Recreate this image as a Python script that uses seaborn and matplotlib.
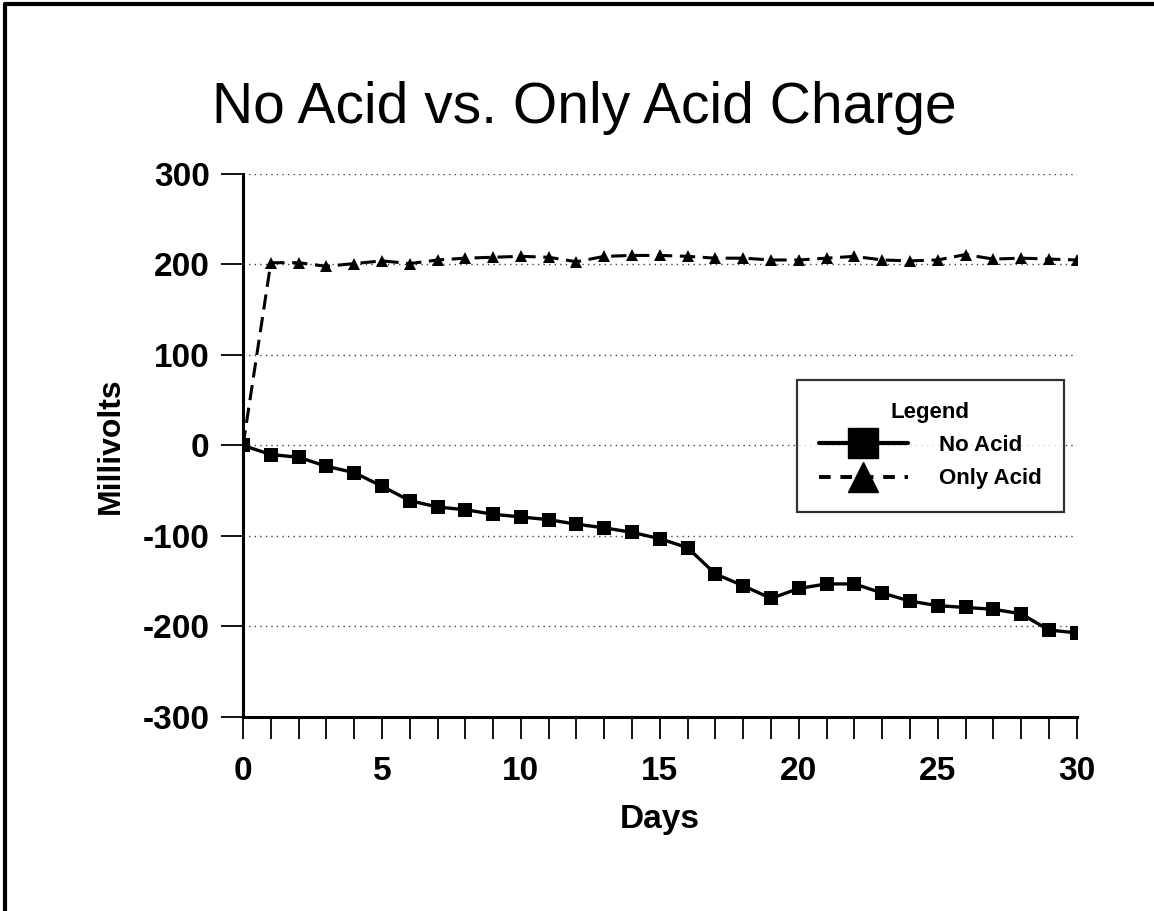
'''Script for plotting acid charge millivolt readings'''

import matplotlib.pyplot as plt
import matplotlib.lines as mlines
import seaborn as sns
import pandas as pd

# data
days = list(range(31))
no_acid = [0, -10, -13, -23, -30, -45, -61, -68, -71, -76, -79, -82, -87, -91, -96,
           -103, -113, -142, -155, -169, -158, -153, -153, -163, -172, -177, -179,
           -181, -186, -204, -207]
only_acid = [0, 202, 202, 198, 201, 204, 201, 205, 207, 208, 209, 208, 203, 209, 210,
             210, 209, 207, 207, 205, 205, 207, 209, 205, 204, 205, 211, 206, 207,
             206, 205]
series_names = ['No Acid', 'Only Acid']
y_ticks = [-300, -200, -100, 0, 100, 200, 300]
x_labels = [0, 5, 10, 15, 20, 25, 30]

df = pd.DataFrame({'Days': days * 2,
                   'Millivolts': no_acid + only_acid,
                   'Series': [series_names[0]] * len(days) + [series_names[1]] * len(days)})

sns.set_style('white')
plt.rcParams['font.family'] = ['Liberation Sans', 'DejaVu Sans']
plt.rcParams['axes.unicode_minus'] = False
for k in ['text.color', 'axes.labelcolor', 'xtick.color', 'ytick.color']:
    plt.rcParams[k] = 'black'

fig = plt.figure(figsize=(11.54, 9.11), dpi=100)
ax = fig.add_axes([0.2106, 0.213, 0.7224, 0.596])

sns.lineplot(data=df, x='Days', y='Millivolts', hue='Series', style='Series',
             palette=['black', 'black'], markers=['s', '^'],
             dashes=[(None, None), (5, 2.5)], markersize=9.5, markeredgewidth=0,
             linewidth=2.4, legend=False, ax=ax)
ax.lines[1].set_linewidth(2.2)
ax.lines[1].set_markersize(8.5)

ax.set_xlim(0, 30)
ax.set_ylim(-300, 300)
ax.set_yticks(y_ticks)
ax.set_xticks(days, minor=True)
ax.set_xticks(x_labels)
ax.tick_params(axis='y', which='major', direction='out', length=16, width=1.3,
               labelsize=24, pad=8, left=True)
ax.tick_params(axis='x', which='both', direction='out', length=16, width=1.3,
               bottom=True)
ax.tick_params(axis='x', which='major', labelsize=24, pad=12)
for lab in ax.get_xticklabels() + ax.get_yticklabels():
    lab.set_fontweight('bold')

for s in ['top', 'right']:
    ax.spines[s].set_visible(False)
for s in ['left', 'bottom']:
    ax.spines[s].set_color('black')
    ax.spines[s].set_linewidth(2.2)

for y in y_ticks[1:]:
    ax.axhline(y, color='#444444', linestyle=(0, (1, 3)), linewidth=1, zorder=0)

ax.set_xlabel('Days', fontsize=24, fontweight='bold', labelpad=12)
ax.set_ylabel('Millivolts', fontsize=23, fontweight='bold', labelpad=12)
fig.text(0.506, 0.881, 'No Acid vs. Only Acid Charge', fontsize=41,
         ha='center', va='center')

h1 = mlines.Line2D([], [], color='black', marker='s', markersize=21, linewidth=3,
                   label=series_names[0])
h2 = mlines.Line2D([], [], color='black', marker='^', markersize=21, linewidth=2.8,
                   linestyle=(0, (3, 2.5)), label=series_names[1])
leg = ax.legend(handles=[h1, h2], title='Legend', loc='upper left',
                bbox_to_anchor=(0.664, 0.621), frameon=True, fancybox=False,
                edgecolor='black', handlelength=4.0, borderpad=1.0,
                labelspacing=0.55, handletextpad=1.4, borderaxespad=0,
                prop={'weight': 'bold', 'size': 16})
leg.get_title().set_fontweight('bold')
leg.get_title().set_fontsize(16)
leg.get_frame().set_linewidth(1.6)
leg._legend_box.align = 'center'

# figure border (left and top)
fig.add_artist(mlines.Line2D([0.004, 0.004], [0, 0.996], color='black', linewidth=3,
                             transform=fig.transFigure))
fig.add_artist(mlines.Line2D([0.004, 1], [0.996, 0.996], color='black', linewidth=3,
                             transform=fig.transFigure))

plt.savefig('out.png', dpi=100)
